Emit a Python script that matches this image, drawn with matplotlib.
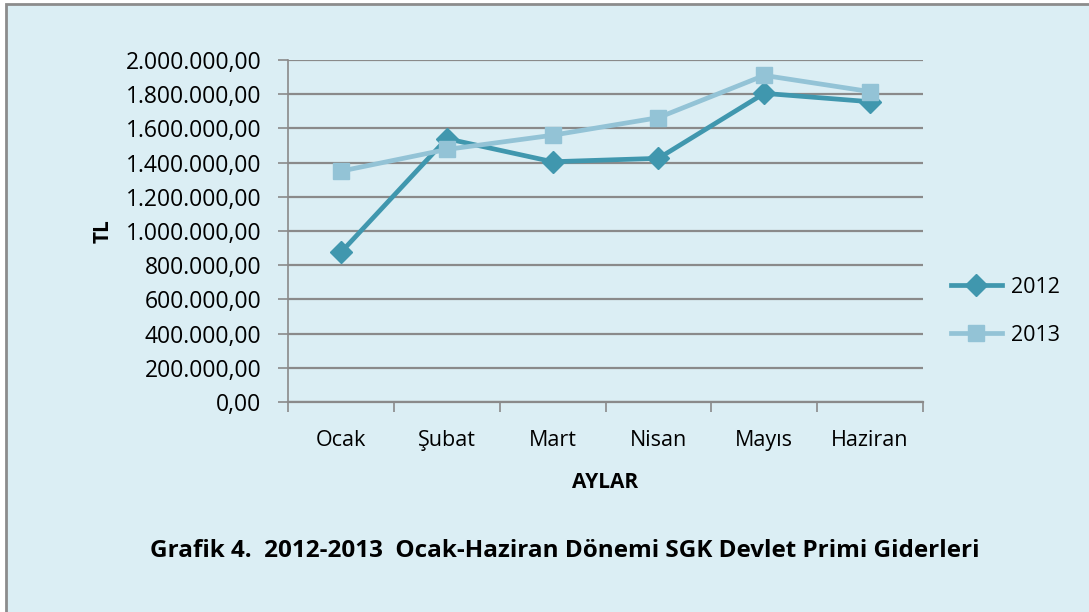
import matplotlib
matplotlib.use("Agg")
import matplotlib.pyplot as plt
from matplotlib.patches import Rectangle
from matplotlib.ticker import FuncFormatter, FixedLocator

months = ["Ocak", "Şubat", "Mart", "Nisan", "Mayıs", "Haziran"]
v2012 = [875000, 1540000, 1405000, 1425000, 1805000, 1756000]
v2013 = [1350000, 1477000, 1560000, 1663000, 1910000, 1815000]
yticks = [0, 200000, 400000, 600000, 800000, 1000000, 1200000, 1400000, 1600000, 1800000, 2000000]

plt.rcParams['font.family'] = ['Open Sans', 'DejaVu Sans']

bg = "#DBEEF4"
c2012 = "#4097AE"
c2013 = "#93C3D6"
gridc = "#8A8A8A"

W, H = 1089, 612
fig = plt.figure(figsize=(W / 100, H / 100), dpi=100)
fig.patch.set_facecolor("white")

# background frame: border visible on left and top only (cropped at right/bottom)
bax = fig.add_axes([0, 0, 1, 1], zorder=0)
bax.set_xlim(0, W)
bax.set_ylim(H, 0)
bax.axis("off")
bax.add_patch(Rectangle((6, 4), W + 20, H + 20, facecolor=bg, edgecolor="#8C8C8C", linewidth=2.0))

ax = fig.add_axes([288 / W, 1 - 402 / H, (923 - 288) / W, (402 - 60) / H], zorder=2)
ax.patch.set_alpha(0)

x = list(range(len(months)))
ax.plot(x, v2012, color=c2012, linewidth=3.4, marker="D", markersize=11, label="2012", zorder=3)
ax.plot(x, v2013, color=c2013, linewidth=3.4, marker="s", markersize=12, label="2013", zorder=4)

ax.set_xlim(-0.5, len(months) - 0.5)
ax.set_ylim(0, 2000000)
ax.yaxis.set_major_locator(FixedLocator(yticks))

def fmt(v, pos):
    s = f"{int(round(v)):,}".replace(",", ".")
    return s + ",00"
ax.yaxis.set_major_formatter(FuncFormatter(fmt))

ax.set_xticks(x)
ax.set_xticklabels(months)
ax.set_xticks([i - 0.5 for i in range(len(months) + 1)], minor=True)
ax.tick_params(axis="x", which="major", length=0, pad=20, labelsize=15.5)
ax.tick_params(axis="x", which="minor", length=7, color=gridc, width=1.2, direction="out")
ax.tick_params(axis="y", length=7, color=gridc, width=1.2, labelsize=16.5, pad=12)

ax.grid(axis="y", color=gridc, linewidth=1.6)
ax.set_axisbelow(True)
for s in ["top", "right"]:
    ax.spines[s].set_visible(False)
ax.spines["left"].set_color(gridc)
ax.spines["bottom"].set_color(gridc)
ax.spines["left"].set_linewidth(1.2)
ax.spines["bottom"].set_linewidth(1.6)

ax.set_xlabel("AYLAR", fontsize=15, fontweight="bold", labelpad=15)
ax.set_ylabel("TL", fontsize=15, fontweight="bold", labelpad=9)

leg = ax.legend(loc="center left", bbox_to_anchor=(1.013, 0.265), frameon=False,
                fontsize=15.5, handlelength=2.4, labelspacing=1.25, handletextpad=0.4)

fig.text(565 / W, 1 - 551 / H, "Grafik 4.  2012-2013  Ocak-Haziran Dönemi SGK Devlet Primi Giderleri",
         ha="center", va="center", fontsize=17.5, fontweight="bold", zorder=3)

fig.savefig("out.png", dpi=100, facecolor="white")
